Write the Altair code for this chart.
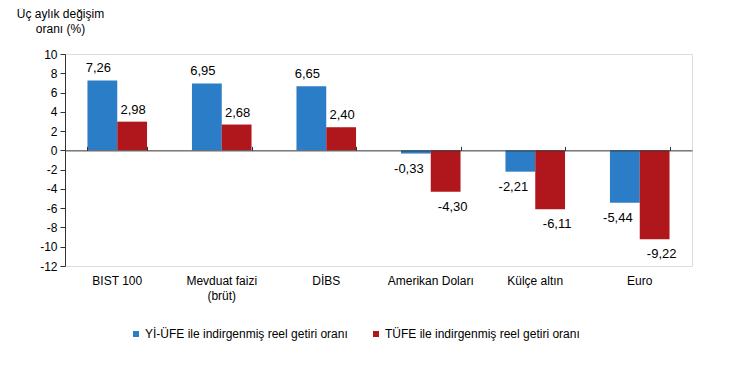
import altair as alt
import pandas as pd

categories = ["BIST 100", "Mevduat faizi|(brüt)", "DİBS", "Amerikan Doları", "Külçe altın", "Euro"]
series_names = ["Yİ-ÜFE ile indirgenmiş reel getiri oranı", "TÜFE ile indirgenmiş reel getiri oranı"]
yi_ufe = [7.26, 6.95, 6.65, -0.33, -2.21, -5.44]
tufe = [2.98, 2.68, 2.40, -4.30, -6.11, -9.22]
colors = ["#2A7DC6", "#B0171C"]
y_ticks = list(range(-12, 11, 2))

rows = []
for c, a, b in zip(categories, yi_ufe, tufe):
    rows.append({"cat": c, "series": series_names[0], "val": a})
    rows.append({"cat": c, "series": series_names[1], "val": b})
df = pd.DataFrame(rows)
df["lbl"] = df["val"].map(lambda v: f"{v:.2f}".replace(".", ","))

W, H = 627, 212
ymin, ymax = -12, 10
zero_off = -(ymax / (ymax - ymin)) * H
FONT = "Liberation Sans"

xscale = alt.Scale(domain=categories, paddingInner=0.43, paddingOuter=0.215)
yscale = alt.Scale(domain=[ymin, ymax], nice=False, zero=False)
off_scale = alt.Scale(domain=series_names)

y_axis = alt.Axis(values=y_ticks, grid=False, title=["Üç aylık değişim", "oranı (%)"],
                  labelOverlap=False, format="d", labelExpr="replace(datum.label, '−', '-')",
                  titleAngle=0, titleAlign="center", titleBaseline="top",
                  titleX=-5, titleY=-46, titleFont=FONT, titleFontSize=12,
                  titleFontWeight="normal", titleColor="#000", titleLineHeight=15,
                  labelFont=FONT, labelFontSize=12, labelColor="#000",
                  domainColor="#333", tickColor="#333", tickSize=5, labelPadding=3)

base = alt.Chart(df)

bars = base.mark_bar().encode(
    x=alt.X("cat:N", scale=xscale, sort=categories,
            axis=alt.Axis(title=None, labelAngle=0, ticks=False, domain=False,
                          labelExpr="split(datum.label, '|')", labelPadding=9,
                          labelFontSize=12, labelFont=FONT, labelColor="#000",
                          labelLineHeight=15, labelBaseline="top")),
    xOffset=alt.XOffset("series:N", scale=off_scale, sort=series_names),
    y=alt.Y("val:Q", scale=yscale, axis=y_axis),
    color=alt.Color("series:N", scale=alt.Scale(domain=series_names, range=colors),
                    legend=alt.Legend(title=None, orient="none", legendX=65, legendY=274,
                                      direction="horizontal", symbolType="square",
                                      symbolSize=36, symbolStrokeWidth=0, labelFont=FONT,
                                      labelFontSize=12, labelColor="#000", labelOffset=3,
                                      labelLimit=400, columnPadding=22)),
)

def text_layer(series, positive, dx, dy, axis):
    return base.transform_filter(
        (alt.datum.series == series) & ((alt.datum.val >= 0) if positive else (alt.datum.val < 0))
    ).mark_text(font=FONT, fontSize=13, color="#000", dx=dx, dy=dy, baseline="middle").encode(
        x=alt.X("cat:N", scale=xscale, sort=categories, axis=axis),
        xOffset=alt.XOffset("series:N", scale=off_scale, sort=series_names),
        y=alt.Y("val:Q", scale=yscale, axis=y_axis),
        text="lbl:N",
    )

zero_axis = alt.Axis(orient="top", offset=zero_off, labels=False, title=None,
                     domainColor="#333", tickColor="#333", tickSize=4,
                     tickBand="extent", zindex=1)

t1 = text_layer(series_names[0], True, -4, -12, zero_axis)
t2 = text_layer(series_names[1], True, 1, -12, None)
t3 = text_layer(series_names[0], False, -7, 15, None)
t4 = text_layer(series_names[1], False, 7, 15, None)

chart = alt.layer(bars, t1, t2, t3, t4).resolve_axis(x="independent").properties(
    width=W, height=H,
    autosize=alt.AutoSizeParams(type="none"),
    padding={"left": 57, "top": 46, "right": 40, "bottom": 94},
).configure_view(stroke=None).configure(background="white")

chart.save("out.html", embed_options={"renderer": "svg", "actions": False})
